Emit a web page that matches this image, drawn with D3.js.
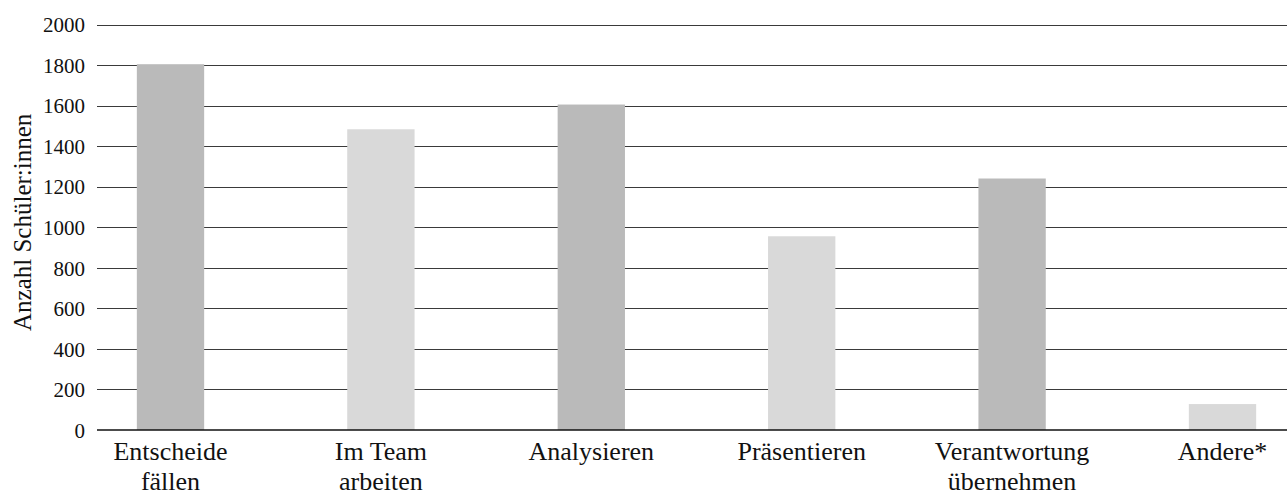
<!DOCTYPE html>
<html>
<head>
<meta charset="utf-8">
<script src="https://cdn.jsdelivr.net/npm/d3@7"></script>
<style>
  body { margin: 0; background: #fff; }
</style>
</head>
<body>
<svg id="chart"></svg>
<script>
// Anzahl Schüler:innen pro Kompetenz
var categories = [["Entscheide", "fällen"], ["Im Team", "arbeiten"], ["Analysieren"],
                  ["Präsentieren"], ["Verantwortung", "übernehmen"], ["Andere*"]];
var values = [1805, 1484, 1606, 956, 1241, 128];
var barColors = ["#bababa", "#d9d9d9"];
var yTicks = [0, 200, 400, 600, 800, 1000, 1200, 1400, 1600, 1800, 2000];

var svgWidth = 1287, svgHeight = 495;
var gridLeft = 97, gridRight = 1287;
var serif = "'Liberation Serif', 'Times New Roman', serif";

var svg = d3.select("#chart")
    .attr("width", svgWidth)
    .attr("height", svgHeight)
    .attr("font-family", serif);

var yScale = d3.scaleLinear()
    .domain([0, 2000])
    .range([430, 24.7]);

var xScale = d3.scaleBand()
    .domain(d3.range(categories.length))
    .range([65.3, 65.3 + 210.4 * categories.length])
    .paddingInner(0.68)
    .paddingOuter(0.34);

// gridlines
svg.append("g")
    .selectAll("line")
    .data(yTicks.slice(1))
    .enter()
    .append("line")
    .attr("x1", gridLeft)
    .attr("x2", gridRight)
    .attr("y1", function(d) { return Math.round(yScale(d)) + 0.5; })
    .attr("y2", function(d) { return Math.round(yScale(d)) + 0.5; })
    .attr("stroke", "#3a3a3a")
    .attr("stroke-width", 1);

// y tick labels
var yAxis = svg.append("g")
    .attr("transform", "translate(" + gridLeft + ",0)")
    .call(d3.axisLeft(yScale).tickValues(yTicks).tickFormat(d3.format("d"))
        .tickSize(0).tickPadding(12));
yAxis.attr("font-family", null).attr("font-size", null);
yAxis.select(".domain").remove();
yAxis.selectAll("text")
    .attr("font-family", serif)
    .attr("font-size", 21)
    .attr("dy", "0.34em")
    .attr("fill", "#111");

// bars
svg.append("g")
    .selectAll("rect")
    .data(values)
    .enter()
    .append("rect")
    .attr("x", function(d, i) { return xScale(i); })
    .attr("width", xScale.bandwidth())
    .attr("y", function(d) { return yScale(d); })
    .attr("height", function(d) { return yScale(0) - yScale(d); })
    .attr("fill", function(d, i) { return barColors[i % 2]; });

// baseline
svg.append("line")
    .attr("x1", gridLeft)
    .attr("x2", gridRight)
    .attr("y1", yScale(0))
    .attr("y2", yScale(0))
    .attr("stroke", "#111")
    .attr("stroke-width", 1.6);

// category labels
var labels = svg.append("g")
    .selectAll("text")
    .data(categories)
    .enter()
    .append("text")
    .attr("text-anchor", "middle")
    .attr("font-family", serif)
    .attr("font-size", 26)
    .attr("fill", "#111")
    .attr("transform", function(d, i) {
        return "translate(" + (xScale(i) + xScale.bandwidth() / 2) + ",460)";
    });
labels.selectAll("tspan")
    .data(function(d) { return d; })
    .enter()
    .append("tspan")
    .attr("x", 0)
    .attr("y", function(d, i) { return i * 30; })
    .text(function(d) { return d; });

// y axis title
svg.append("text")
    .attr("transform", "translate(31," + (yScale(1000) - 5) + ") rotate(-90)")
    .attr("text-anchor", "middle")
    .attr("font-family", serif)
    .attr("font-size", 25)
    .attr("fill", "#111")
    .text("Anzahl Schüler:innen");
</script>
</body>
</html>
